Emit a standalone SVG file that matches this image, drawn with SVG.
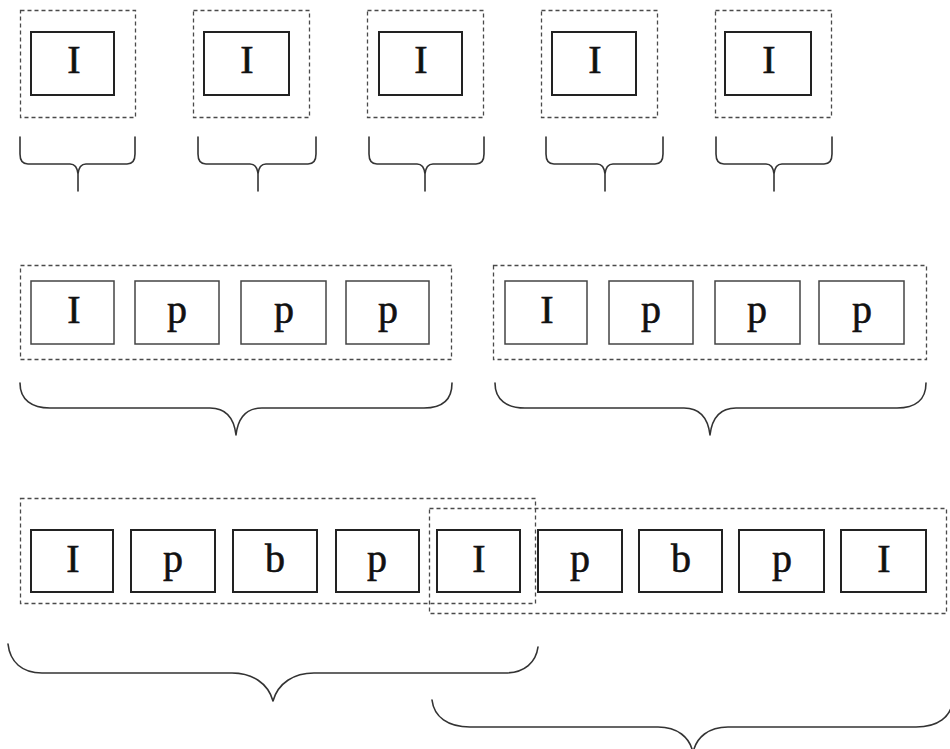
<svg xmlns="http://www.w3.org/2000/svg" width="950" height="749" viewBox="0 0 950 749">
<style>
.bg{fill:#ffffff}
.grp{fill:none;stroke:#4a4a4a;stroke-width:1.3;stroke-dasharray:4 3}
.frm{fill:#ffffff;stroke:#222222;stroke-width:2}
.frm2{fill:#ffffff;stroke:#444444;stroke-width:1.5}
.lbl{font-family:"Liberation Serif","Times New Roman",serif;font-size:40px;fill:#111111;stroke:#111111;stroke-width:0.6;text-anchor:middle}
.brace{fill:none;stroke:#333333;stroke-width:1.6;stroke-linejoin:round;stroke-linecap:round}
</style>
<rect class="bg" x="0" y="0" width="950" height="749"/>

<!-- Row 1 -->
<g id="gop1-1"><rect class="grp" x="20.5" y="10.5" width="115" height="107"/>
<g id="r1-f1"><rect class="frm" x="31" y="32" width="83" height="63"/><text class="lbl" x="74" y="73">I</text></g></g>
<g id="gop1-2"><rect class="grp" x="193.5" y="10.5" width="116" height="107"/>
<g id="r1-f2"><rect class="frm" x="204" y="32" width="85" height="63"/><text class="lbl" x="247" y="73">I</text></g></g>
<g id="gop1-3"><rect class="grp" x="367.5" y="10.5" width="116" height="107"/>
<g id="r1-f3"><rect class="frm" x="379" y="32" width="83" height="63"/><text class="lbl" x="421" y="73">I</text></g></g>
<g id="gop1-4"><rect class="grp" x="541.5" y="10.5" width="116" height="107"/>
<g id="r1-f4"><rect class="frm" x="552" y="32" width="84" height="63"/><text class="lbl" x="595" y="73">I</text></g></g>
<g id="gop1-5"><rect class="grp" x="715.5" y="10.5" width="116" height="107"/>
<g id="r1-f5"><rect class="frm" x="725" y="32" width="86" height="63"/><text class="lbl" x="769" y="73">I</text></g></g>

<!-- Row 2 -->
<g id="gop2-1"><rect class="grp" x="20.5" y="265.5" width="431" height="94"/>
<g id="r2-f1"><rect class="frm2" x="31" y="281" width="83" height="63"/><text class="lbl" x="74" y="323">I</text></g>
<g id="r2-f2"><rect class="frm2" x="135" y="281" width="84" height="63"/><text class="lbl" x="177" y="323">p</text></g>
<g id="r2-f3"><rect class="frm2" x="241" y="281" width="85" height="63"/><text class="lbl" x="284" y="323">p</text></g>
<g id="r2-f4"><rect class="frm2" x="346" y="281" width="83" height="63"/><text class="lbl" x="388" y="323">p</text></g>
</g>
<g id="gop2-2"><rect class="grp" x="493.5" y="265.5" width="433" height="94"/>
<g id="r2-f5"><rect class="frm2" x="505" y="281" width="82" height="63"/><text class="lbl" x="547" y="323">I</text></g>
<g id="r2-f6"><rect class="frm2" x="609" y="281" width="84" height="63"/><text class="lbl" x="651" y="323">p</text></g>
<g id="r2-f7"><rect class="frm2" x="715" y="281" width="85" height="63"/><text class="lbl" x="757" y="323">p</text></g>
<g id="r2-f8"><rect class="frm2" x="819" y="281" width="85" height="63"/><text class="lbl" x="862" y="323">p</text></g>
</g>

<!-- Row 3 -->
<g id="gop3-1"><rect class="grp" x="20.5" y="498.5" width="515" height="105"/></g>
<g id="gop3-2"><rect class="grp" x="429.5" y="508.5" width="517" height="105"/></g>
<g id="r3-f1"><rect class="frm" x="31" y="530" width="82" height="62"/><text class="lbl" x="73" y="572">I</text></g>
<g id="r3-f2"><rect class="frm" x="131" y="530" width="84" height="62"/><text class="lbl" x="173" y="572">p</text></g>
<g id="r3-f3"><rect class="frm" x="233" y="530" width="84" height="62"/><text class="lbl" x="275" y="572">b</text></g>
<g id="r3-f4"><rect class="frm" x="336" y="530" width="83" height="62"/><text class="lbl" x="377" y="572">p</text></g>
<g id="r3-f5"><rect class="frm" x="437" y="530" width="83" height="62"/><text class="lbl" x="479" y="572">I</text></g>
<g id="r3-f6"><rect class="frm" x="538" y="530" width="84" height="62"/><text class="lbl" x="580" y="572">p</text></g>
<g id="r3-f7"><rect class="frm" x="639" y="530" width="83" height="62"/><text class="lbl" x="681" y="572">b</text></g>
<g id="r3-f8"><rect class="frm" x="739" y="530" width="85" height="62"/><text class="lbl" x="782" y="572">p</text></g>
<g id="r3-f9"><rect class="frm" x="841" y="530" width="85" height="62"/><text class="lbl" x="884" y="572">I</text></g>

<!-- Braces -->
<g id="braces">
<path class="brace" d="M20 137 L20 154 Q20 164 28 164 L70 164 Q77 164 78 174 Q79 164 86 164 L127 164 Q135 164 135 154 L135 137 M78 174 L78 191"/>
<path class="brace" d="M198 137 L198 154 Q198 164 206 164 L250 164 Q257 164 258 174 Q259 164 266 164 L308 164 Q316 164 316 154 L316 137 M258 174 L258 191"/>
<path class="brace" d="M369 137 L369 154 Q369 164 377 164 L417 164 Q424 164 425 174 Q426 164 433 164 L476 164 Q484 164 484 154 L484 137 M425 174 L425 191"/>
<path class="brace" d="M546 137 L546 154 Q546 164 554 164 L597 164 Q604 164 605 174 Q606 164 613 164 L655 164 Q663 164 663 154 L663 137 M605 174 L605 191"/>
<path class="brace" d="M716 137 L716 154 Q716 164 724 164 L766 164 Q773 164 774 174 Q775 164 782 164 L824 164 Q832 164 832 154 L832 137 M774 174 L774 191"/>

<path class="brace" d="M20 383 C20 400 32 408 50 408 L210 408 C226 408 234 418 236 435 C238 418 246 408 262 408 L424 408 C442 408 452 400 452 383"/>
<path class="brace" d="M495 383 C495 400 507 408 525 408 L684 408 C700 408 708 418 710 435 C712 418 720 408 736 408 L897 408 C915 408 926 400 926 383"/>

<path class="brace" d="M8 644 C10 662 22 673 42 673 L232 673 C252 673 268 683 273 701 C278 683 294 673 314 673 L505 673 C525 673 536 662 538 647"/>
<path class="brace" d="M432 700 C434 717 448 727 470 727 L658 727 C677 727 690 737 693 753 C696 737 709 727 728 727 L916 727 C938 727 951 717 953 700"/>
</g>
</svg>
